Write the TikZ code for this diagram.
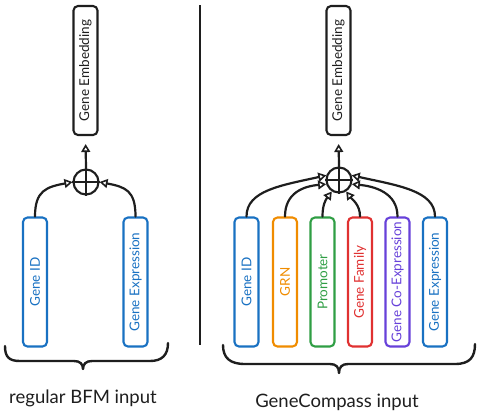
\documentclass[tikz,border=0pt]{standalone}
\usepackage{fontspec}
\setmainfont{Lato}
\usetikzlibrary{arrows.meta}
\definecolor{ink}{HTML}{1E1E1E}
\definecolor{cblue}{HTML}{1971C2}
\definecolor{corange}{HTML}{F08C00}
\definecolor{cgreen}{HTML}{2F9E44}
\definecolor{cred}{HTML}{E03131}
\definecolor{cviolet}{HTML}{6741D9}
\begin{document}
\begin{tikzpicture}[x=1pt,y=-1pt,
  box/.style={draw=#1, text=#1, rounded corners=4.5pt, line width=2.1pt,
    minimum width=24pt, minimum height=129pt, inner sep=0pt,
    font=\fontsize{13.5}{15}\selectfont},
  sum/.style={draw=ink, circle, line width=2.1pt, minimum size=25pt, inner sep=0pt},
  plusline/.style={draw=ink, line width=1.8pt},
  conn/.style={draw=ink, line width=2.2pt, line cap=round,
    -{Triangle[open,length=8pt,width=9pt,line width=1.6pt]}},
  bracestyle/.style={draw=ink, line width=2.4pt, line cap=round, line join=round},
  lbl/.style={text=ink, font=\fontsize{18.5}{21}\selectfont}
]
\useasboundingbox (0,0) rectangle (480,418);

% ---------- left: regular BFM ----------
\node[box=ink] (embL) at (85.5,70.5) {\rotatebox{90}{Gene Embedding}};
\node[box=cblue] (idL) at (35,282) {\rotatebox{90}{Gene ID}};
\node[box=cblue] (exL) at (135.5,282) {\rotatebox{90}{Gene Expression}};
\node[sum] (sumL) at (86,182) {};
\draw[plusline] (sumL.north) -- (sumL.south) (sumL.west) -- (sumL.east);
\draw[conn, shorten >=8pt] (sumL.north) -- (embL.south);
\draw[conn] (idL.north) .. controls +(0,-26) and +(-26,5) .. (sumL.west);
\draw[conn] (exL.north) .. controls +(0,-26) and +(26,5) .. (sumL.east);

% divider
\coordinate (divT) at (200,5);
\coordinate (divB) at (200,345);
\draw[draw=ink, line width=2.3pt] (divT) -- (divB);

% left brace
\draw[bracestyle] (5,346) .. controls (5,357) and (9,361) .. (20,361)
  -- (74,361) .. controls (80,361) and (83,364) .. (83,369)
  .. controls (83,364) and (86,361) .. (92,361)
  -- (150,361) .. controls (162,361) and (168,355) .. (168,343);
\node[lbl] (lblL) at (83,398) {regular BFM input};

% ---------- right: GeneCompass ----------
\node[box=ink] (embR) at (338.5,70.5) {\rotatebox{90}{Gene Embedding}};
\node[box=cblue]   (idR)  at (246.5,282) {\rotatebox{90}{Gene ID}};
\node[box=corange] (grnR) at (285,282)   {\rotatebox{90}{GRN}};
\node[box=cgreen]  (proR) at (322.5,282) {\rotatebox{90}{Promoter}};
\node[box=cred]    (famR) at (360,282)   {\rotatebox{90}{Gene Family}};
\node[box=cviolet] (coR)  at (397.5,282) {\rotatebox{90}{Gene Co-Expression}};
\node[box=cblue]   (exR)  at (435,282)   {\rotatebox{90}{Gene Expression}};
\node[sum] (sumR) at (339,180) {};
\draw[plusline] (sumR.north) -- (sumR.south) (sumR.west) -- (sumR.east);
\draw[conn, shorten >=8pt] (sumR.north) -- (embR.south);
\draw[conn] (idR.north)  .. controls +(0,-26) and +(-45,10) .. (sumR.160);
\draw[conn] (grnR.north) .. controls +(0,-24) and +(-22,2) .. (sumR.198);
\draw[conn] (proR.north) .. controls +(0,-12) and +(-6,8) .. (sumR.238);
\draw[conn] (famR.north) .. controls +(0,-12) and +(6,8) .. (sumR.302);
\draw[conn] (coR.north)  .. controls +(0,-24) and +(22,2) .. (sumR.342);
\draw[conn] (exR.north)  .. controls +(0,-26) and +(45,10) .. (sumR.20);

% right brace
\draw[bracestyle] (223,345) .. controls (223,358) and (230,364) .. (245,364)
  -- (330,364) .. controls (336,364) and (339,367) .. (339,373)
  .. controls (339,367) and (342,364) .. (348,364)
  -- (455,364) .. controls (470,364) and (475,357) .. (475,344);
\node[lbl] (lblR) at (337,402) {GeneCompass input};
\end{tikzpicture}
\end{document}
